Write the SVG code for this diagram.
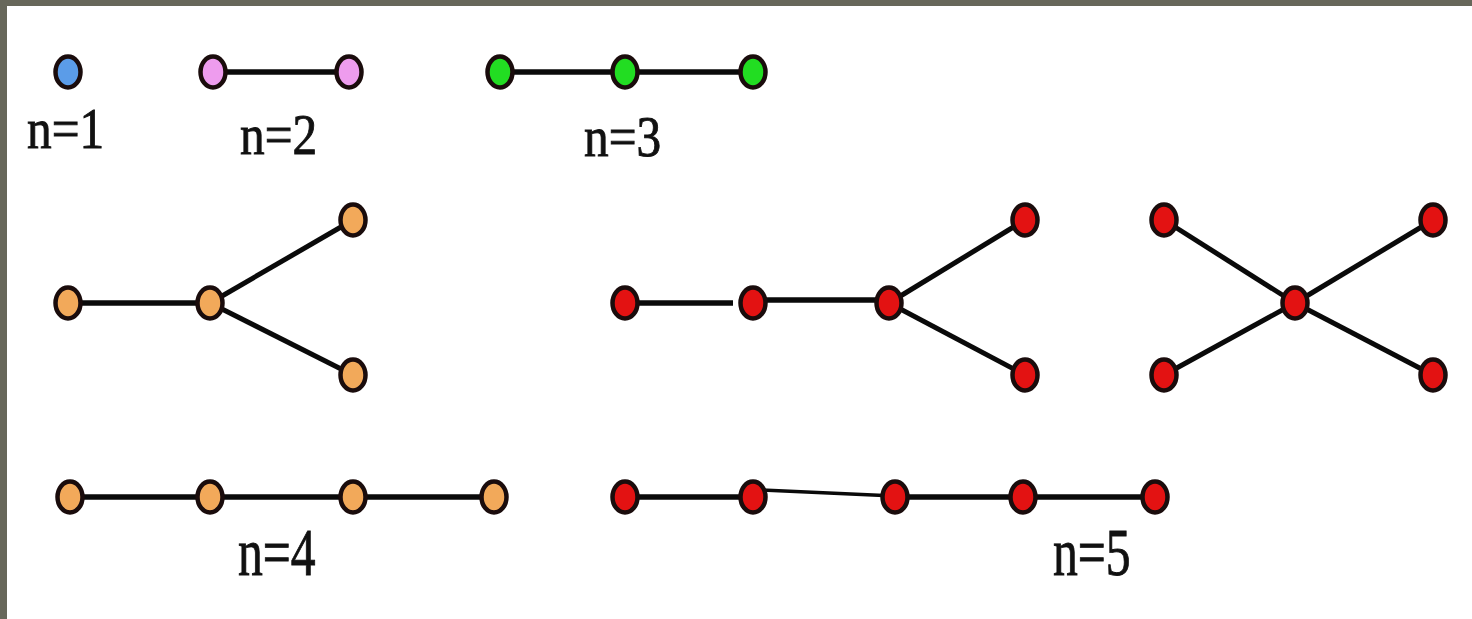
<svg xmlns="http://www.w3.org/2000/svg" width="1472" height="619" viewBox="0 0 1472 619">
<style>
.bg{fill:#ffffff}
.frame{fill:#67675a}
.e{stroke:#0a0a0a;stroke-width:5.5;stroke-linecap:butt;fill:none}
.d{stroke:#0a0a0a;stroke-width:5;fill:none}
.t{stroke:#0a0a0a;stroke-width:3.5;fill:none}
.n{stroke:#1a0c0c;stroke-width:4.5}
.blue{fill:#5b9ce8}
.pink{fill:#ee9cee}
.green{fill:#22dd22}
.orange{fill:#f2a95a}
.red{fill:#e31212}
.lbl{font-family:"Liberation Serif","Times New Roman",serif;fill:#111111;stroke:#111111;stroke-width:0.9}
</style>
<rect class="bg" x="0" y="0" width="1472" height="619"/>
<rect class="frame" x="0" y="0" width="1472" height="6"/>
<rect class="frame" x="0" y="0" width="7" height="619"/>

<g id="connectors">
  <line class="e" x1="213" y1="72" x2="349" y2="72"/>
  <line class="e" x1="500" y1="72" x2="625" y2="72"/>
  <line class="e" x1="625" y1="72" x2="753" y2="72"/>
  <line class="e" x1="68" y1="303" x2="210" y2="303"/>
  <line class="d" x1="210" y1="303" x2="353" y2="220"/>
  <line class="d" x1="210" y1="303" x2="353" y2="375"/>
  <line class="e" x1="70" y1="497" x2="210" y2="497"/>
  <line class="e" x1="210" y1="497" x2="353" y2="497"/>
  <line class="e" x1="353" y1="497" x2="494" y2="497"/>
  <line class="e" x1="625" y1="303" x2="733" y2="303"/>
  <line class="e" x1="753" y1="300" x2="889" y2="300"/>
  <line class="d" x1="889" y1="303" x2="1025" y2="220"/>
  <line class="d" x1="889" y1="303" x2="1025" y2="375"/>
  <line class="d" x1="1164" y1="220" x2="1295" y2="303"/>
  <line class="d" x1="1433" y1="220" x2="1295" y2="303"/>
  <line class="d" x1="1164" y1="375" x2="1295" y2="303"/>
  <line class="d" x1="1433" y1="375" x2="1295" y2="303"/>
  <line class="e" x1="625" y1="497" x2="753" y2="497"/>
  <line class="t" x1="760" y1="490" x2="895" y2="496"/>
  <line class="e" x1="895" y1="497" x2="1023" y2="497"/>
  <line class="e" x1="1023" y1="497" x2="1155" y2="497"/>
</g>

<g id="g-n1">
  <ellipse id="n1-a" class="n blue" cx="68" cy="72" rx="12.5" ry="15.5"/>
</g>
<g id="g-n2">
  <ellipse id="n2-a" class="n pink" cx="213" cy="72" rx="12.5" ry="15.5"/>
  <ellipse id="n2-b" class="n pink" cx="349" cy="72" rx="12.5" ry="15.5"/>
</g>
<g id="g-n3">
  <ellipse id="n3-a" class="n green" cx="500" cy="72" rx="12.5" ry="15.5"/>
  <ellipse id="n3-b" class="n green" cx="625" cy="72" rx="12.5" ry="15.5"/>
  <ellipse id="n3-c" class="n green" cx="753" cy="72" rx="12.5" ry="15.5"/>
</g>
<g id="g-n4-tree">
  <ellipse id="n4t-a" class="n orange" cx="68" cy="303" rx="12.5" ry="15.5"/>
  <ellipse id="n4t-b" class="n orange" cx="210" cy="303" rx="12.5" ry="15.5"/>
  <ellipse id="n4t-c" class="n orange" cx="353" cy="220" rx="12.5" ry="15.5"/>
  <ellipse id="n4t-d" class="n orange" cx="353" cy="375" rx="12.5" ry="15.5"/>
</g>
<g id="g-n4-path">
  <ellipse id="n4p-a" class="n orange" cx="70" cy="497" rx="12.5" ry="15.5"/>
  <ellipse id="n4p-b" class="n orange" cx="210" cy="497" rx="12.5" ry="15.5"/>
  <ellipse id="n4p-c" class="n orange" cx="353" cy="497" rx="12.5" ry="15.5"/>
  <ellipse id="n4p-d" class="n orange" cx="494" cy="497" rx="12.5" ry="15.5"/>
</g>
<g id="g-n5-tree">
  <ellipse id="n5t-a" class="n red" cx="625" cy="303" rx="12.5" ry="15.5"/>
  <ellipse id="n5t-b" class="n red" cx="753" cy="303" rx="12.5" ry="15.5"/>
  <ellipse id="n5t-c" class="n red" cx="889" cy="303" rx="12.5" ry="15.5"/>
  <ellipse id="n5t-d" class="n red" cx="1025" cy="220" rx="12.5" ry="15.5"/>
  <ellipse id="n5t-e" class="n red" cx="1025" cy="375" rx="12.5" ry="15.5"/>
</g>
<g id="g-n5-star">
  <ellipse id="n5s-a" class="n red" cx="1164" cy="220" rx="12.5" ry="15.5"/>
  <ellipse id="n5s-b" class="n red" cx="1433" cy="220" rx="12.5" ry="15.5"/>
  <ellipse id="n5s-c" class="n red" cx="1295" cy="303" rx="12.5" ry="15.5"/>
  <ellipse id="n5s-d" class="n red" cx="1164" cy="375" rx="12.5" ry="15.5"/>
  <ellipse id="n5s-e" class="n red" cx="1433" cy="375" rx="12.5" ry="15.5"/>
</g>
<g id="g-n5-path">
  <ellipse id="n5p-a" class="n red" cx="625" cy="497" rx="12.5" ry="15.5"/>
  <ellipse id="n5p-b" class="n red" cx="753" cy="497" rx="12.5" ry="15.5"/>
  <ellipse id="n5p-c" class="n red" cx="895" cy="497" rx="12.5" ry="15.5"/>
  <ellipse id="n5p-d" class="n red" cx="1023" cy="497" rx="12.5" ry="15.5"/>
  <ellipse id="n5p-e" class="n red" cx="1155" cy="497" rx="12.5" ry="15.5"/>
</g>

<g id="labels">
  <text class="lbl" font-size="56" transform="translate(27,148) scale(0.88,1)">n=1</text>
  <text class="lbl" font-size="56" transform="translate(240,154) scale(0.88,1)">n=2</text>
  <text class="lbl" font-size="56" transform="translate(584,156) scale(0.88,1)">n=3</text>
  <text class="lbl" font-size="68" transform="translate(238,575) scale(0.73,1)">n=4</text>
  <text class="lbl" font-size="68" transform="translate(1053,575) scale(0.73,1)">n=5</text>
</g>
</svg>
